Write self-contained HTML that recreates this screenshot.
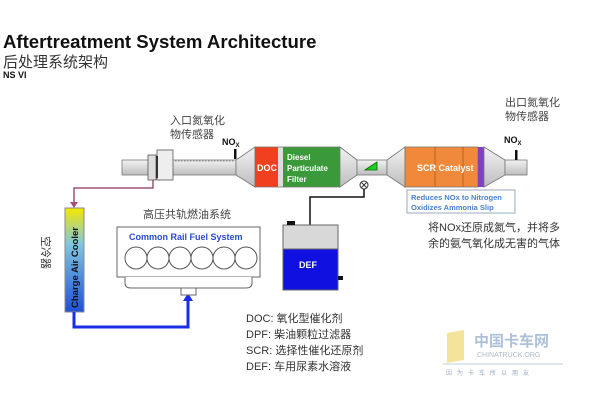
<!DOCTYPE html>
<html><head><meta charset="utf-8"><style>
html,body{margin:0;padding:0;background:#fff;width:600px;height:400px;overflow:hidden}
text{font-family:"Liberation Sans","Noto Sans CJK SC",sans-serif}
</style></head><body>
<svg width="600" height="400" viewBox="0 0 600 400" xmlns="http://www.w3.org/2000/svg">
<defs>
<linearGradient id="cac" x1="0" y1="0" x2="0" y2="1">
<stop offset="0" stop-color="#f4e800"/><stop offset="0.35" stop-color="#7fc6e0"/><stop offset="1" stop-color="#1e4fd8"/></linearGradient>
<linearGradient id="pipe" x1="0" y1="0" x2="0" y2="1">
<stop offset="0" stop-color="#f2f2f2"/><stop offset="0.5" stop-color="#d8d8d8"/><stop offset="1" stop-color="#bdbdbd"/></linearGradient>
</defs>
<text x="3" y="48" font-size="18.6" font-weight="bold" fill="#111">Aftertreatment System Architecture</text>
<text x="3" y="67" font-size="15" fill="#333">后处理系统架构</text>
<text x="3" y="78" font-size="9" font-weight="bold" fill="#111">NS VI</text>

<text x="170" y="124" font-size="11" fill="#444">入口氮氧化</text>
<text x="170" y="138" font-size="11" fill="#444">物传感器</text>
<text x="505" y="106" font-size="11" fill="#444">出口氮氧化</text>
<text x="505" y="120" font-size="11" fill="#444">物传感器</text>
<text x="222" y="145" font-size="9" font-weight="bold" fill="#111">NO<tspan font-size="6" dy="2">X</tspan></text>
<text x="504" y="143" font-size="9" font-weight="bold" fill="#111">NO<tspan font-size="6" dy="2">X</tspan></text>

<polyline points="153,178 153,188 74,188 74,203" fill="none" stroke="#a0507a" stroke-width="1.5"/>
<polygon points="70,202 78,202 74,208" fill="#a0507a"/>

<rect x="122" y="160" width="114" height="15" fill="url(#pipe)" stroke="#777" stroke-width="0.8"/>
<line x1="175" y1="161" x2="234" y2="161" stroke="#888" stroke-dasharray="1.5,1.5"/>
<rect x="148" y="155" width="8" height="25" fill="#ddd" stroke="#555" stroke-width="0.8"/>
<rect x="157" y="150" width="16" height="30" fill="#eee" stroke="#555" stroke-width="0.8"/>
<rect x="156" y="156" width="2" height="22" fill="#333"/>
<rect x="234" y="149" width="2.5" height="10" fill="#111"/>
<polygon points="236,160 255,147 255,187 236,175" fill="url(#pipe)" stroke="#777" stroke-width="0.8"/>
<rect x="255" y="147" width="23" height="40" fill="#f04020"/>
<rect x="278" y="147" width="5" height="40" fill="#ddd"/>
<rect x="283" y="147" width="57" height="40" fill="#3a9a3a"/>
<rect x="255" y="147" width="85" height="40" fill="none" stroke="#777" stroke-width="0.8"/>
<text x="257" y="171" font-size="9" font-weight="bold" fill="#fff">DOC</text>
<text x="287" y="160" font-size="8" font-weight="bold" fill="#fff">Diesel</text>
<text x="287" y="171" font-size="8" font-weight="bold" fill="#fff">Particulate</text>
<text x="287" y="182" font-size="8" font-weight="bold" fill="#fff">Filter</text>
<polygon points="340,147 357,160 357,175 340,187" fill="url(#pipe)" stroke="#777" stroke-width="0.8"/>
<rect x="357" y="160" width="30" height="15" fill="url(#pipe)" stroke="#777" stroke-width="0.8"/>
<polygon points="365,170 377,162 377,170" fill="#20d020" stroke="#060" stroke-width="0.8"/>
<polygon points="387,160 405,147 405,187 387,175" fill="url(#pipe)" stroke="#777" stroke-width="0.8"/>
<rect x="405" y="147" width="73" height="40" fill="#f08a3a" stroke="#777" stroke-width="0.8"/>
<line x1="435" y1="147" x2="435" y2="187" stroke="#c06020"/>
<line x1="463" y1="147" x2="463" y2="187" stroke="#c06020"/>
<rect x="478" y="147" width="6" height="40" fill="#8040c0"/>
<text x="417" y="171" font-size="9" font-weight="bold" fill="#fff">SCR Catalyst</text>
<polygon points="484,147 505,160 505,175 484,187" fill="url(#pipe)" stroke="#777" stroke-width="0.8"/>
<rect x="505" y="160" width="22" height="15" fill="url(#pipe)" stroke="#777" stroke-width="0.8"/>
<rect x="515" y="150" width="2.5" height="10" fill="#111"/>

<circle cx="364" cy="185" r="4" fill="#fff" stroke="#333"/>
<path d="M361,182 L367,188 M367,182 L361,188" stroke="#333"/>
<polyline points="364,189 364,197 310,197 310,225" fill="none" stroke="#111" stroke-width="1.5"/>
<rect x="283" y="225" width="55" height="24" fill="#d8d8d8" stroke="#666"/>
<rect x="283" y="249" width="55" height="41" fill="#1010e0" stroke="#666"/>
<rect x="287" y="221" width="8" height="4" fill="#111"/>
<rect x="338" y="276" width="5" height="4" fill="#111"/>
<text x="299" y="268" font-size="9" font-weight="bold" fill="#fff">DEF</text>

<rect x="407" y="190" width="108" height="23" fill="#fff" stroke="#9ab" stroke-width="1"/>
<text x="411" y="200" font-size="7.5" font-weight="bold" fill="#4a80d0">Reduces NOx to Nitrogen</text>
<text x="411" y="210" font-size="7.5" font-weight="bold" fill="#4a80d0">Oxidizes Ammonia Slip</text>
<text x="428" y="231" font-size="11" fill="#333">将NOx还原成氮气，并将多</text>
<text x="428" y="247" font-size="11" fill="#333">余的氨气氧化成无害的气体</text>

<rect x="65" y="208" width="19" height="104" fill="url(#cac)" stroke="#888"/>
<text transform="translate(78,308) rotate(-90)" font-size="9.5" font-weight="bold" fill="#111">Charge Air Cooler</text>
<text transform="translate(42,236) rotate(90)" font-size="11" fill="#333">空冷器</text>
<polyline points="74,312 74,327 188,327 188,300" fill="none" stroke="#1a2ee8" stroke-width="3"/>
<polygon points="183,301 193,301 188,293" fill="#1a2ee8"/>

<text x="143" y="218" font-size="11" fill="#444">高压共轨燃油系统</text>
<rect x="117" y="227" width="143" height="50" fill="#fff" stroke="#666"/>
<path d="M125,277 L125,283 Q125,288 131,288 L246,288 Q252,288 252,283 L252,277" fill="#fff" stroke="#666"/>
<rect x="181" y="288" width="15" height="7" fill="#fff" stroke="#666"/>
<text x="129" y="240" font-size="9" font-weight="bold" fill="#2a4ad0">Common Rail Fuel System</text>
<g fill="#fff" stroke="#555">
<circle cx="136" cy="258" r="11"/><circle cx="158" cy="258" r="11"/><circle cx="180" cy="258" r="11"/>
<circle cx="202" cy="258" r="11"/><circle cx="224" cy="258" r="11"/><circle cx="246" cy="258" r="11"/>
</g>

<g font-size="11" fill="#333">
<text x="246" y="322">DOC: 氧化型催化剂</text>
<text x="246" y="338">DPF: 柴油颗粒过滤器</text>
<text x="246" y="354">SCR: 选择性催化还原剂</text>
<text x="246" y="370">DEF: 车用尿素水溶液</text>
</g>

<polygon points="447,333 464,330 464,360 447,363" fill="#f0d870" opacity="0.7"/>
<text x="474" y="346" font-size="15" font-weight="bold" fill="#8aa8c8" opacity="0.7">中国卡车网</text>
<text x="477" y="357" font-size="7" fill="#9ab" opacity="0.8">CHINATRUCK.ORG</text>
<line x1="443" y1="364" x2="563" y2="364" stroke="#abc" stroke-width="0.8"/>
<text x="446" y="375" font-size="6" fill="#9ab" letter-spacing="5">因为卡车所以朋友</text>
</svg>
</body></html>
